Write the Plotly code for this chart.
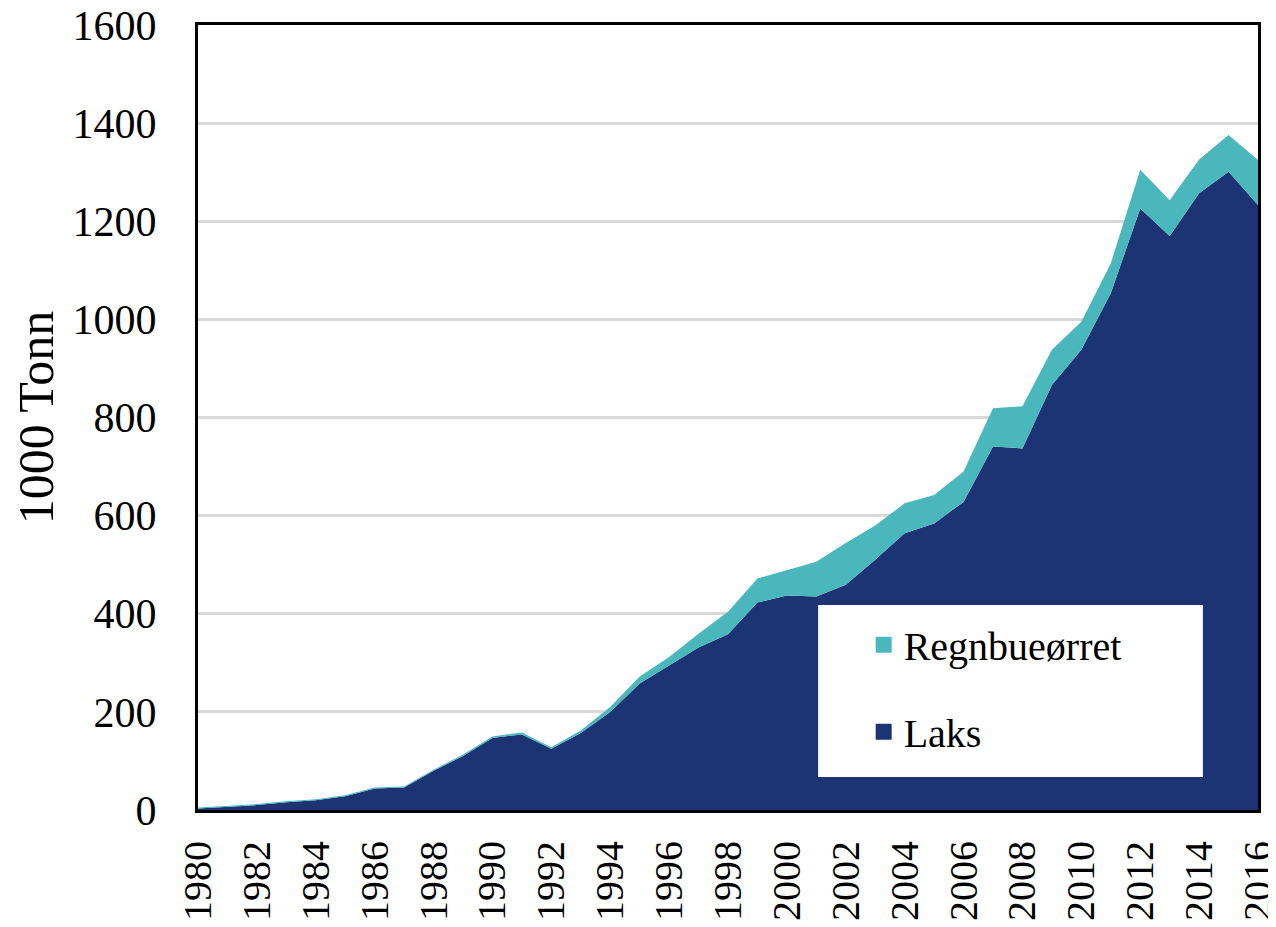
import plotly.graph_objects as go

years = list(range(1980, 2017))
laks = [3, 6, 10, 16, 20, 28, 44, 46, 80, 110, 147, 154, 125, 157, 200, 258, 294, 331, 358, 423,
        437, 435, 459, 510, 564, 584, 628, 741, 737, 866, 938, 1053, 1226, 1170, 1257, 1301, 1233]
total = [5, 8, 12, 18, 22, 30, 46, 48, 82, 113, 150, 158, 128, 162, 210, 272, 312, 359, 404, 472,
         489, 506, 544, 580, 625, 642, 690, 819, 823, 938, 995, 1114, 1305, 1243, 1326, 1376, 1325]
regnbue = [t - l for t, l in zip(total, laks)]

LAKS_COLOR = "#1c3374"
TROUT_COLOR = "#4ab7bc"
FONT = "Liberation Serif"

fig = go.Figure()
fig.add_trace(go.Scatter(x=years, y=laks, stackgroup="one", mode="lines", line=dict(width=0, color=LAKS_COLOR),
                         fillcolor=LAKS_COLOR, name="Laks", showlegend=False))
fig.add_trace(go.Scatter(x=years, y=regnbue, stackgroup="one", mode="lines", line=dict(width=0, color=TROUT_COLOR),
                         fillcolor=TROUT_COLOR, name="Regnbueørret", showlegend=False))
# legend entries
fig.add_trace(go.Scatter(x=[None], y=[None], mode="markers", name="Regnbueørret",
                         marker=dict(symbol="square", size=24, color=TROUT_COLOR), legendgroup="a"))
fig.add_trace(go.Scatter(x=[None], y=[None], mode="markers", name="Laks",
                         marker=dict(symbol="square", size=24, color=LAKS_COLOR), legendgroup="b"))

fig.add_shape(type="rect", xref="paper", yref="paper", x0=0.585, x1=0.948, y0=0.042, y1=0.261,
              fillcolor="white", line=dict(width=0), layer="above")

fig.update_layout(
    width=1268, height=919,
    margin=dict(l=190, r=18, t=17, b=117, autoexpand=False),
    paper_bgcolor="white", plot_bgcolor="white",
    font=dict(family=FONT, size=42, color="black"),
    showlegend=True,
    legend=dict(x=0.628, y=0.252, xanchor="left", yanchor="top", bgcolor="rgba(0,0,0,0)",
                font=dict(family=FONT, size=40), tracegroupgap=32, itemwidth=30),
    xaxis=dict(range=[1980, 2016], tickmode="array", tickvals=list(range(1980, 2017, 2)),
               tickangle=-90, showgrid=False, showline=True, mirror=True, linecolor="black",
               linewidth=3, ticks="", tickfont=dict(size=40), zeroline=False, automargin=False,
               ticklabeloverflow="allow", ticklabelstandoff=12),
    yaxis=dict(range=[0, 1600], tickvals=list(range(0, 1601, 200)), showgrid=True,
               gridcolor="#d9d9d9", gridwidth=3, showline=True, mirror=True, linecolor="black",
               linewidth=3, ticks="", tickfont=dict(size=42), zeroline=False, automargin=False,
               ticklabelstandoff=30, ticklabeloverflow="allow",
               title=dict(text="1000 Tonn", font=dict(size=50), standoff=22)),
)

fig.write_html("out.html")
